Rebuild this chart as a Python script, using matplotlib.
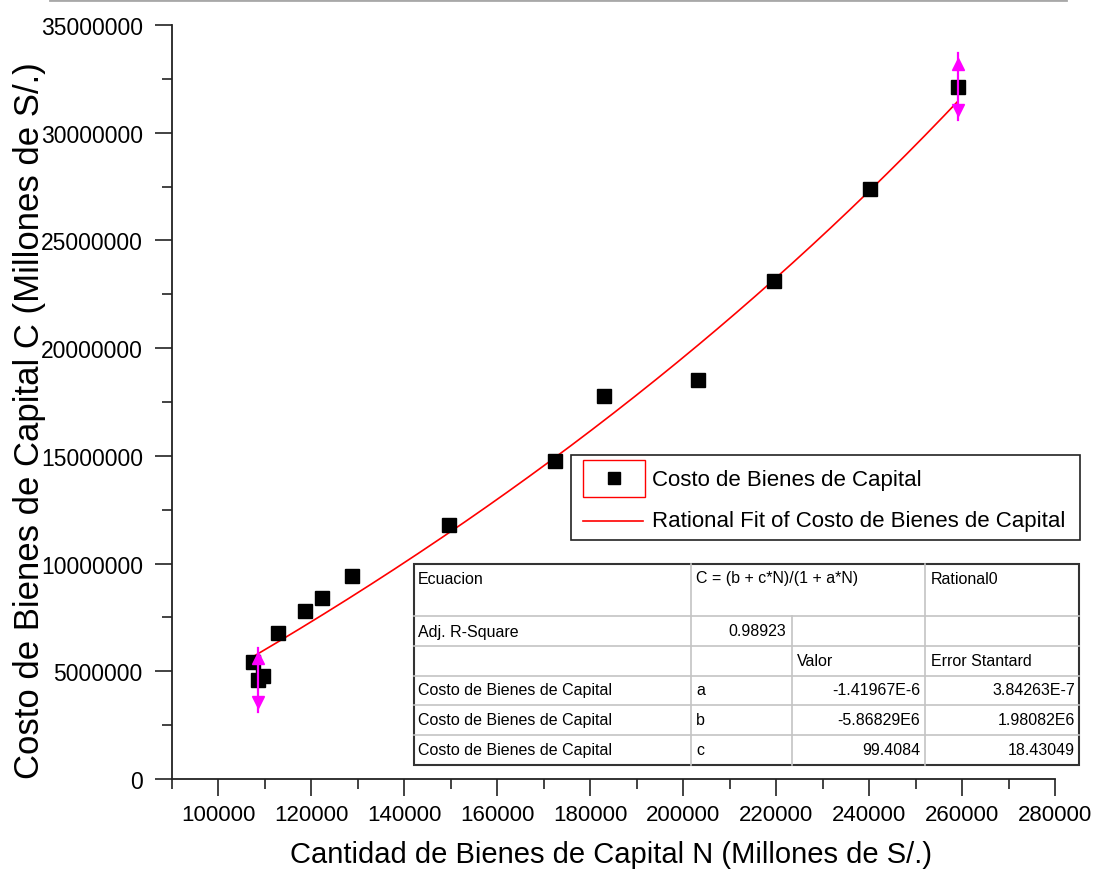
import numpy as np
import matplotlib
matplotlib.use("Agg")
import matplotlib.pyplot as plt
from matplotlib.lines import Line2D
from matplotlib.patches import Rectangle
from matplotlib.ticker import MultipleLocator

plt.rcParams['font.family'] = ['Liberation Sans', 'DejaVu Sans']

# Observed data: quantity of capital goods N vs cost of capital goods C
N = [107400, 108500, 109500, 112800, 118600, 122200, 128700,
     149700, 172500, 183000, 203200, 219500, 240200, 259100]
C = [5.43e6, 4.60e6, 4.78e6, 6.78e6, 7.80e6, 8.40e6, 9.42e6,
     11.79e6, 14.76e6, 17.78e6, 18.52e6, 23.12e6, 27.39e6, 32.13e6]
# vertical error markers (0 = none)
C_err = [0, 1.5e6, 0, 0, 0, 0, 0, 0, 0, 0, 0, 0, 0, 1.55e6]

# Rational fit C = (b + c*N) / (1 + a*N)
fit_a = -1.41967e-6
fit_b = -5.86829e6
fit_c = 99.4084
fit_a_err = 3.84263e-7
fit_b_err = 1.98082e6
fit_c_err = 18.43049
adj_r2 = 0.98923

x_ticks = [100000, 120000, 140000, 160000, 180000, 200000, 220000, 240000, 260000, 280000]
y_ticks = [0, 5000000, 10000000, 15000000, 20000000, 25000000, 30000000, 35000000]

W, H = 1093, 870
fig = plt.figure(figsize=(W / 100, H / 100), dpi=100)


def fx(px):
    return px / W


def fy(py):
    return 1 - py / H


ax = fig.add_axes([fx(172), fy(780), fx(1055) - fx(172), fy(26) - fy(780)])
ax.set_xlim(90000, 280000)
ax.set_ylim(0, 35000000)
for s in ('top', 'right'):
    ax.spines[s].set_visible(False)
for s in ('left', 'bottom'):
    ax.spines[s].set_linewidth(1.3)
    ax.spines[s].set_color('#222222')

ax.set_xticks(x_ticks)
ax.set_xticklabels([str(v) for v in x_ticks])
ax.set_yticks(y_ticks)
ax.set_yticklabels([str(v) for v in y_ticks])
ax.xaxis.set_minor_locator(MultipleLocator(10000))
ax.yaxis.set_minor_locator(MultipleLocator(2500000))
ax.tick_params(which='major', direction='out', length=12, width=1.2, color='#222222')
ax.tick_params(which='minor', direction='out', length=7, width=1.2, color='#222222')
ax.tick_params(axis='x', which='major', labelsize=16, pad=6)
ax.tick_params(axis='y', which='major', labelsize=16.5, pad=9)

# fitted curve
Nf = np.linspace(min(N), max(N), 300)
Cf = (fit_b + fit_c * Nf) / (1 + fit_a * Nf)
ax.plot(Nf, Cf, color='red', lw=1.2, zorder=2)

# data points
ax.plot(N, C, linestyle='none', marker='s', markersize=10, color='black', zorder=3)

# double-headed error markers
for n, c, e in zip(N, C, C_err):
    if e > 0:
        ax.plot([n, n], [c - e, c + e], color='magenta', lw=1.6, zorder=4)
        ax.plot([n], [c + 0.68 * e], marker='^', markersize=9, color='magenta', zorder=4)
        ax.plot([n], [c - 0.68 * e], marker='v', markersize=9, color='magenta', zorder=4)

# axis titles
fig.text(fx(30), fy(421), 'Costo de Bienes de Capital C (Millones de S/.)',
         rotation=90, ha='center', va='center', fontsize=25)
fig.text(fx(611), fy(855), 'Cantidad de Bienes de Capital N (Millones de S/.)',
         ha='center', va='center', fontsize=21)

# faint frame line along the top edge
fig.add_artist(Line2D([fx(50), fx(1066)], [fy(1), fy(1)], color='#a8a8a8', lw=2))

# legend box
fig.add_artist(Rectangle((fx(571), fy(541)), fx(1080) - fx(571), fy(456) - fy(541),
                         fill=False, edgecolor='#222222', lw=1.2))
fig.add_artist(Rectangle((fx(583), fy(498)), fx(645) - fx(583), fy(461) - fy(498),
                         fill=False, edgecolor='red', lw=1.0))
fig.add_artist(Line2D([fx(614)], [fy(479)], marker='s', markersize=8, color='black',
                      linestyle='none'))
fig.add_artist(Line2D([fx(583), fx(643)], [fy(522), fy(522)], color='red', lw=1.2))
fig.text(fx(652), fy(481), 'Costo de Bienes de Capital', ha='left', va='center', fontsize=16)
fig.text(fx(652), fy(522), 'Rational Fit of Costo de Bienes de Capital', ha='left',
         va='center', fontsize=16)

# fit results table
tx = [414, 691, 792, 925, 1079]
ty = [565, 617, 647, 677, 706, 736, 766]
grid_c = '#c4c4c4'
for yy in ty[1:-1]:
    fig.add_artist(Line2D([fx(tx[0]), fx(tx[-1])], [fy(yy), fy(yy)], color=grid_c, lw=1.2))
for xx in (tx[1], tx[3]):
    fig.add_artist(Line2D([fx(xx), fx(xx)], [fy(ty[0]), fy(ty[-1])], color=grid_c, lw=1.2))
fig.add_artist(Line2D([fx(tx[2]), fx(tx[2])], [fy(ty[1]), fy(ty[-1])], color=grid_c, lw=1.2))
fig.add_artist(Rectangle((fx(tx[0]), fy(ty[-1])), fx(tx[-1]) - fx(tx[0]), fy(ty[0]) - fy(ty[-1]),
                         fill=False, edgecolor='#333333', lw=1.5))

tfs = 11.5


def cell(px, py, s, ha='left'):
    fig.text(fx(px), fy(py), s, ha=ha, va='center', fontsize=tfs)


cell(418, 579, 'Ecuacion')
cell(696, 579, 'C = (b + c*N)/(1 + a*N)')
cell(931, 579, 'Rational0')
cell(418, 632, 'Adj. R-Square')
cell(786, 632, f'{adj_r2:.5f}', ha='right')
cell(797, 662, 'Valor')
cell(931, 662, 'Error Stantard')


def sci(v):
    m, e = f'{v:.5E}'.split('E')
    return f'{m}E{int(e)}'


params = [('a', fit_a, fit_a_err), ('b', fit_b, fit_b_err), ('c', fit_c, fit_c_err)]
for (name, val, err), yy in zip(params, [691, 721, 751]):
    cell(418, yy, 'Costo de Bienes de Capital')
    cell(696, yy, name)
    vs = sci(val) if abs(val) < 1e-3 or abs(val) > 1e5 else f'{val:.4f}'
    es = sci(err) if abs(err) < 1e-3 or abs(err) > 1e5 else f'{err:.5f}'
    cell(920, yy, vs, ha='right')
    cell(1075, yy, es, ha='right')

fig.savefig('out.png', dpi=100)
